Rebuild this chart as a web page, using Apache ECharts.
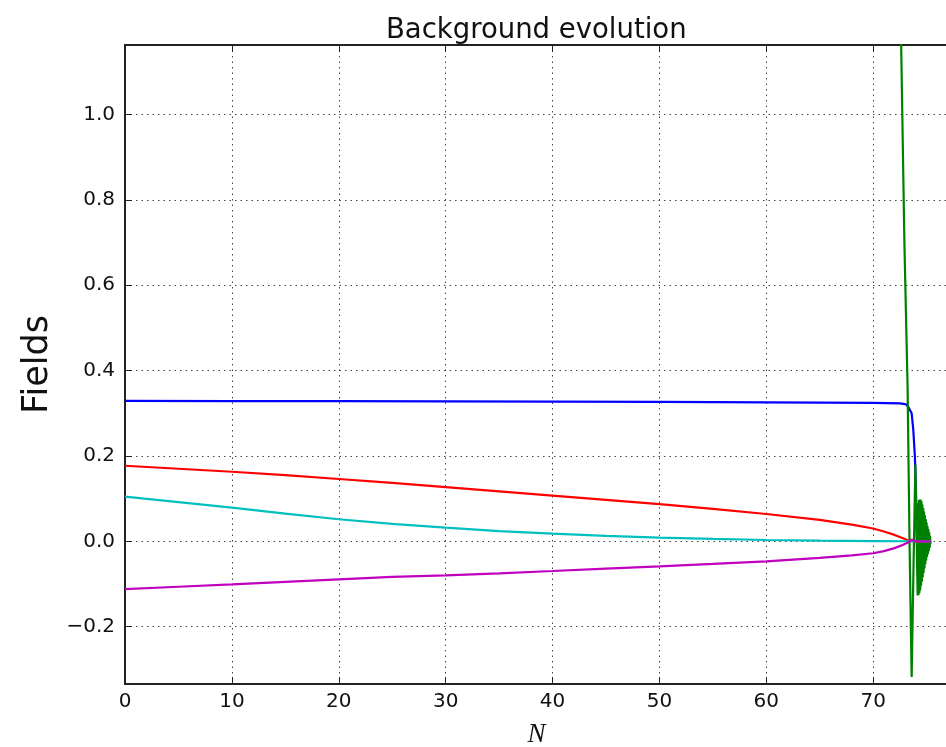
<!DOCTYPE html>
<html>
<head>
<meta charset="utf-8">
<script src="https://cdn.jsdelivr.net/npm/echarts@6/dist/echarts.min.js"></script>
<style>html,body{margin:0;padding:0;background:#fff;overflow:hidden}#c{width:946px;height:747px}</style>
</head>
<body>
<div id="c"></div>
<script>
// ---- tick labels ----
const xTicks = [0, 10, 20, 30, 40, 50, 60, 70];
const yTicks = [-0.2, 0.0, 0.2, 0.4, 0.6, 0.8, 1.0];

// ---- series (N values, field values) ----
const blueN = [0, 10, 20, 30, 40, 50, 60, 70, 72.5, 73.1, 73.35, 73.6, 73.75, 73.9, 74.0, 74.08, 74.16, 74.24, 74.32, 74.4, 74.5, 74.6, 74.7, 74.8, 74.95, 75.1, 75.25, 75.36];
const blueV = [0.329, 0.3287, 0.3283, 0.3278, 0.3272, 0.3265, 0.3257, 0.3245, 0.323, 0.321, 0.312, 0.300, 0.262, 0.200, 0.120, 0.030, -0.070, 0.070, -0.090, 0.080, -0.070, 0.060, -0.050, 0.040, -0.030, 0.020, -0.010, 0.0];

const greenN = [72.40, 72.62, 72.92, 73.22, 73.40, 73.60, 73.78, 73.95, 74.05,
  74.16, 74.20, 74.24, 74.28, 74.32, 74.36, 74.40, 74.44, 74.48, 74.52, 74.56, 74.60,
  74.64, 74.68, 74.72, 74.76, 74.80, 74.84, 74.88, 74.92, 74.96, 75.00, 75.04, 75.08,
  75.12, 75.16, 75.20, 75.24, 75.28, 75.32, 75.36];
const greenV = [1.60, 1.16, 0.70, 0.36, 0.00, -0.318, -0.05, 0.18, 0.03,
  -0.127, 0.090, -0.126, 0.097, -0.122, 0.098, -0.115, 0.098, -0.104, 0.094, -0.094, 0.086,
  -0.084, 0.078, -0.074, 0.070, -0.064, 0.061, -0.054, 0.052, -0.045, 0.044, -0.037, 0.036,
  -0.030, 0.029, -0.023, 0.021, -0.016, 0.013, -0.006];

const redN = [0, 5, 10, 15, 20, 25, 30, 35, 40, 45, 50, 55, 60, 65, 68, 70, 71, 72, 72.8, 73.3, 73.6, 74, 75.36];
const redV = [0.177, 0.170, 0.163, 0.155, 0.146, 0.137, 0.127, 0.117, 0.107, 0.097, 0.087, 0.076, 0.064, 0.050, 0.039, 0.030, 0.023, 0.015, 0.007, 0.002, 0.0, 0.0, 0.0];

const cyanN = [0, 5, 10, 15, 20, 25, 30, 35, 40, 45, 50, 55, 60, 65, 70, 73, 75.36];
const cyanV = [0.1045, 0.092, 0.079, 0.065, 0.0516, 0.041, 0.032, 0.024, 0.018, 0.0125, 0.0085, 0.0055, 0.003, 0.0015, 0.0005, 0.0001, 0.0];

const magN = [0, 5, 10, 15, 20, 25, 30, 35, 40, 45, 50, 55, 60, 65, 68, 70, 71, 72, 72.8, 73.3, 73.6, 73.8, 74.0, 75.36];
const magV = [-0.112, -0.1065, -0.101, -0.095, -0.089, -0.0835, -0.080, -0.075, -0.0696, -0.064, -0.0586, -0.053, -0.047, -0.039, -0.033, -0.028, -0.023, -0.016, -0.008, -0.002, 0.004, 0.002, 0.0, 0.0];

function zip(a, b) { return a.map((x, i) => [x, b[i]]); }

const FONT = 'DejaVu Sans';
const chart = echarts.init(document.getElementById('c'), null, {renderer: 'canvas'});

function line(name, color, n, v, w) {
  return {
    name: name, type: 'line', data: zip(n, v), showSymbol: false, symbol: 'none',
    lineStyle: {color: color, width: w}, itemStyle: {color: color},
    clip: true, animation: false, xAxisIndex: 0, yAxisIndex: 0
  };
}

const gridLine = {show: true, lineStyle: {color: '#444', width: 1, type: [1.5, 4]}};

chart.setOption({
  animation: false,
  backgroundColor: '#ffffff',
  title: {
    text: 'Background evolution', left: 381, top: 12,
    textStyle: {fontFamily: FONT, fontSize: 27.5, fontWeight: 'normal', color: '#111'}
  },
  grid: {left: 125, top: 45, bottom: 63, right: -2, containLabel: false, outerBoundsMode: 'none'},
  xAxis: [{
    type: 'value', min: 0, max: 77, position: 'bottom',
    name: 'N', nameLocation: 'middle', nameGap: 37,
    nameTextStyle: {fontFamily: 'Liberation Serif', fontStyle: 'italic', fontSize: 27, color: '#111'},
    axisLine: {show: true, onZero: false, lineStyle: {color: '#222', width: 2}},
    axisTick: {show: true, inside: true, length: 7, customValues: xTicks, lineStyle: {color: '#222', width: 1}},
    axisLabel: {show: true, customValues: xTicks, margin: 8, fontFamily: FONT, fontSize: 20, color: '#111',
      formatter: v => String(v)},
    splitLine: gridLine
  }, {
    type: 'value', min: 0, max: 77, position: 'top',
    axisLine: {show: true, onZero: false, lineStyle: {color: '#222', width: 2}},
    axisTick: {show: true, inside: true, length: 7, customValues: xTicks, lineStyle: {color: '#222', width: 1}},
    axisLabel: {show: false},
    splitLine: {show: false}
  }],
  yAxis: [{
    type: 'value', min: -0.3344, max: 1.163, position: 'left',
    name: 'Fields', nameLocation: 'middle', nameGap: 70,
    nameTextStyle: {fontFamily: FONT, fontSize: 35, color: '#111'},
    axisLine: {show: true, onZero: false, lineStyle: {color: '#222', width: 2}},
    axisTick: {show: true, inside: true, length: 7, customValues: yTicks, lineStyle: {color: '#222', width: 1}},
    axisLabel: {show: true, customValues: yTicks, margin: 10, fontFamily: FONT, fontSize: 20, color: '#111',
      formatter: v => v.toFixed(1).replace('-', '\u2212')},
    splitLine: gridLine
  }],
  series: [
    line('blue', '#0000ff', blueN, blueV, 2.2),
    line('green', '#008000', greenN, greenV, 2.2),
    line('red', '#ff0000', redN, redV, 2.2),
    line('cyan', '#00bfbf', cyanN, cyanV, 2.2),
    line('magenta', '#bf00bf', magN, magV, 2.2)
  ]
});
</script>
</body>
</html>
